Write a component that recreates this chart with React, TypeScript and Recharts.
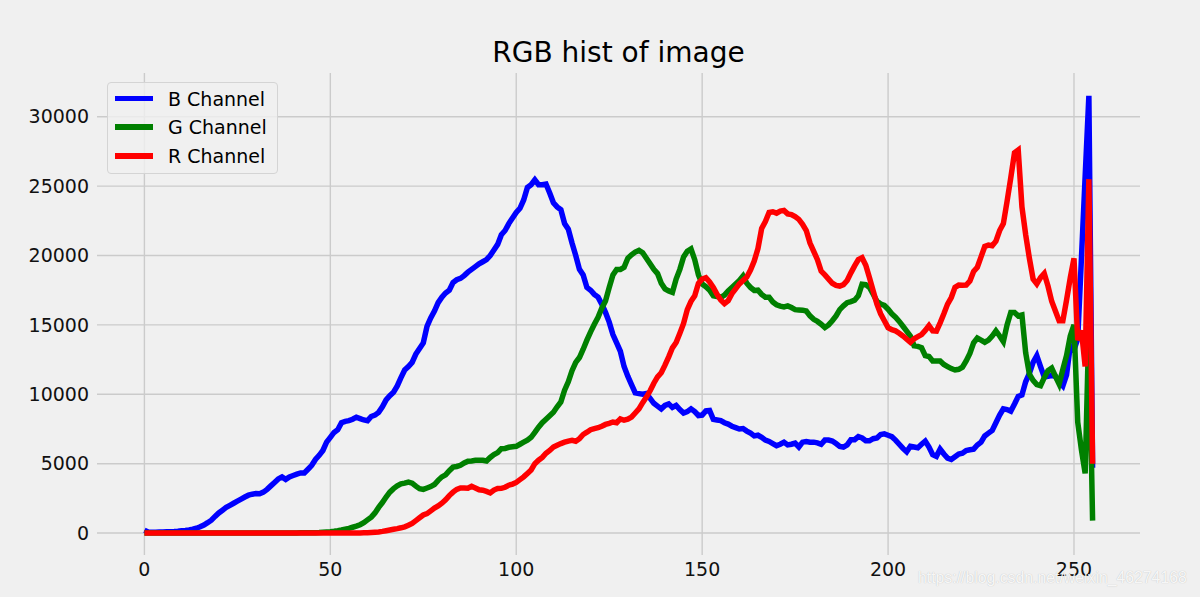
import { LineChart, Line, XAxis, YAxis, CartesianGrid, Legend } from 'recharts';

// pixel counts per intensity level
const blue = [
  200, 80, 60, 60, 70, 80, 90, 100, 110, 130, 160, 190, 230, 280, 350, 450,
  580, 750, 930, 1200, 1450, 1650, 1850, 2000, 2150, 2300, 2450, 2600, 2730, 2800, 2850, 2830,
  2950, 3150, 3400, 3650, 3900, 4050, 3870, 4050, 4150, 4250, 4330, 4330, 4600, 4880, 5300, 5600,
  5950, 6550, 6900, 7250, 7450, 7950, 8050, 8100, 8200, 8350, 8250, 8150, 8100, 8400, 8500, 8700,
  9100, 9600, 9900, 10150, 10600, 11200, 11750, 12000, 12300, 12900, 13300, 13700, 14900, 15500, 16000, 16600,
  17000, 17300, 17500, 18050, 18250, 18350, 18550, 18800, 19000, 19200, 19400, 19550, 19700, 20000, 20400, 20800,
  21500, 21800, 22300, 22700, 23100, 23400, 24000, 24900, 25100, 25450, 25100, 25100, 25150, 24500, 23800, 23500,
  23300, 22300, 21900, 20900, 20000, 19000, 18600, 17700, 17500, 17200, 17000, 16500, 15900, 15200, 14300, 13700,
  13100, 12000, 11300, 10700, 10100, 10050, 10000, 10050, 9700, 9350, 9150, 8950, 9200, 9310, 9050, 9200,
  8900, 8650, 8750, 8950, 8750, 8470, 8500, 8800, 8830, 8200, 8150, 8100, 7950, 7850, 7700, 7600,
  7500, 7530, 7350, 7200, 7000, 7050, 6900, 6700, 6600, 6450, 6300, 6400, 6550, 6350, 6400, 6480,
  6200, 6550, 6600, 6550, 6550, 6500, 6400, 6700, 6700, 6630, 6450, 6250, 6200, 6350, 6730, 6730,
  6950, 6850, 6650, 6650, 6800, 6850, 7100, 7150, 7050, 6950, 6700, 6400, 6100, 5850, 6250, 6200,
  6150, 6400, 6630, 6200, 5650, 5530, 6050, 5700, 5400, 5300, 5500, 5700, 5750, 5950, 6000, 6050,
  6350, 6550, 7000, 7200, 7400, 7950, 8500, 8950, 8900, 8780, 9300, 9850, 9950, 10900, 11500, 12300,
  12780, 12000, 11250, 11300, 11350, 11300, 10900, 10600, 11400, 13500, 13200, 14000, 19800, 25700, 31500, 4700,
];

const green = [
  0, 0, 0, 0, 0, 0, 0, 0, 0, 0, 0, 0, 0, 0, 0, 0,
  0, 0, 0, 0, 0, 0, 0, 0, 0, 0, 0, 0, 0, 0, 0, 0,
  0, 0, 0, 0, 0, 0, 0, 0, 10, 10, 20, 20, 20, 30, 30, 40,
  60, 80, 100, 130, 170, 220, 280, 340, 420, 500, 600, 750, 950, 1150, 1450, 1850,
  2200, 2600, 2950, 3200, 3400, 3550, 3600, 3680, 3600, 3380, 3200, 3150, 3250, 3350, 3500, 3800,
  4050, 4200, 4500, 4750, 4800, 4880, 5050, 5180, 5200, 5240, 5250, 5240, 5190, 5450, 5650, 5800,
  6080, 6100, 6180, 6220, 6250, 6400, 6550, 6700, 6900, 7250, 7630, 7950, 8200, 8450, 8710, 9100,
  9450, 10300, 10900, 11700, 12300, 12650, 13250, 13900, 14500, 15050, 15550, 16200, 16730, 17700, 18600, 19000,
  19000, 19150, 19800, 20050, 20250, 20370, 20200, 19800, 19400, 19000, 18700, 18000, 17600, 17450, 17350, 18300,
  19000, 19900, 20300, 20470, 19700, 18600, 17950, 17750, 17500, 17100, 17050, 16970, 17150, 17450, 17700, 17950,
  18200, 18520, 18000, 17700, 17480, 17500, 17200, 17000, 17000, 16650, 16450, 16350, 16300, 16370, 16250, 16100,
  16080, 16060, 16000, 15650, 15400, 15250, 15050, 14810, 15000, 15300, 15650, 16100, 16370, 16600, 16680, 16780,
  17100, 17930, 17900, 17700, 17210, 16700, 16500, 16400, 16130, 15800, 15550, 15250, 14900, 14550, 14200, 13500,
  13450, 13350, 12780, 12720, 12400, 12400, 12400, 12150, 12000, 11850, 11750, 11800, 11950, 12400, 12950, 13700,
  14050, 13900, 13750, 13900, 14200, 14570, 14200, 13800, 15000, 15890, 15890, 15650, 15720, 13000, 11460, 11000,
  10700, 10620, 11200, 11700, 11890, 11300, 10740, 11800, 12800, 14200, 15000, 8000, 6000, 4300, 15000, 900,
];

const red = [
  0, 0, 0, 0, 0, 0, 0, 0, 0, 0, 0, 0, 0, 0, 0, 0,
  0, 0, 0, 0, 0, 0, 0, 0, 0, 0, 0, 0, 0, 0, 0, 0,
  0, 0, 0, 0, 0, 0, 0, 0, 0, 0, 0, 0, 0, 0, 0, 0,
  0, 0, 0, 0, 0, 0, 0, 0, 0, 10, 10, 20, 20, 40, 60, 80,
  120, 170, 220, 270, 320, 380, 450, 560, 700, 900, 1100, 1300, 1400, 1600, 1800, 1950,
  2150, 2400, 2700, 2950, 3150, 3250, 3250, 3230, 3370, 3250, 3120, 3090, 3000, 2890, 3100, 3210,
  3220, 3300, 3450, 3530, 3650, 3850, 4050, 4300, 4550, 5000, 5250, 5450, 5750, 5950, 6200, 6330,
  6450, 6550, 6630, 6680, 6620, 6800, 7100, 7270, 7450, 7530, 7590, 7700, 7830, 7900, 8000, 7950,
  8230, 8130, 8200, 8350, 8650, 8950, 9400, 9800, 10250, 10800, 11250, 11550, 12100, 12700, 13350, 13730,
  14400, 15100, 16100, 16700, 17100, 18000, 18300, 18400, 18100, 17700, 17200, 16800, 16530, 16750, 17250, 17600,
  17950, 18200, 18450, 18950, 19600, 20500, 21950, 22450, 23100, 23150, 23050, 23200, 23250, 23000, 22950, 22800,
  22600, 22250, 21800, 20900, 20300, 19700, 18880, 18600, 18300, 18000, 17850, 17800, 17900, 18200, 18750, 19250,
  19700, 19840, 19300, 18400, 17440, 16500, 15800, 15300, 14800, 14650, 14570, 14400, 14200, 13980, 13750, 14000,
  14150, 14300, 14600, 14950, 14570, 14550, 15150, 15800, 16500, 16970, 17700, 17870, 17850, 17870, 18160, 18850,
  19150, 19900, 20650, 20750, 20700, 21030, 21800, 22300, 23900, 25600, 27400, 27600, 23500, 21500, 19800, 18300,
  17950, 18400, 18700, 17800, 16700, 16000, 15290, 15290, 16800, 18400, 19800, 13900, 14600, 12000, 25500, 5000,
];

const xTicks = [0, 50, 100, 150, 200, 250];
const yTicks = [0, 5000, 10000, 15000, 20000, 25000, 30000];
const xDomain = [-12.75, 267.75];
const yDomain = [-1580, 33150];

const seriesNames = ['B Channel', 'G Channel', 'R Channel'];
const seriesColors = ['#0000ff', '#008000', '#ff0000'];

const data = blue.map((b, i) => ({ x: i, b, g: green[i], r: red[i] }));

const FONT = '"DejaVu Sans", sans-serif';

// map a value through the axis scale (function in some versions, object with .map in others)
function scaled(axis: any, v: number, lo: number, len: number, dom: number[], flip: boolean) {
  const s = axis?.scale;
  if (typeof s === 'function') return s(v);
  if (s && typeof s.map === 'function') return s.map(v);
  const f = (v - dom[0]) / (dom[1] - dom[0]);
  return flip ? lo + len * (1 - f) : lo + len * f;
}

function LegendBox() {
  return (
    <div
      style={{
        position: 'relative',
        width: 171,
        height: 92,
        boxSizing: 'border-box',
        border: '1px solid #d4d4d4',
        borderRadius: 4,
        background: 'rgba(240,240,240,0.8)',
        fontFamily: FONT,
        fontSize: 19,
        color: '#000',
      }}
    >
      {seriesNames.map((name, i) => (
        <div
          key={name}
          style={{ position: 'absolute', left: 0, top: 15.5 + i * 28.7 - 12, height: 24, display: 'flex', alignItems: 'center' }}
        >
          <span style={{ display: 'inline-block', marginLeft: 7, width: 38, height: 5.5, background: seriesColors[i] }} />
          <span style={{ marginLeft: 15, lineHeight: '24px', whiteSpace: 'nowrap' }}>{name}</span>
        </div>
      ))}
    </div>
  );
}

export default function App() {
  const tick = { fontFamily: FONT, fontSize: 19, fill: '#111' };
  return (
    <div style={{ position: 'absolute', left: 0, top: 0, width: 1200, height: 597, background: '#f0f0f0', overflow: 'hidden' }}>
      <div
        style={{
          position: 'absolute',
          left: 97,
          width: 1043,
          top: 39,
          textAlign: 'center',
          fontFamily: FONT,
          fontSize: 28,
          lineHeight: 1,
          color: '#000',
        }}
      >
        RGB hist of image
      </div>
      <LineChart width={1200} height={597} data={data} margin={{ top: 73, right: 60, bottom: 12, left: 37 }}>
        <CartesianGrid
          stroke="#cbcbcb"
          strokeWidth={1.4}
          horizontalCoordinatesGenerator={({ yAxis, offset }: any) =>
            yTicks.map((t) => scaled(yAxis, t, offset?.top ?? 73, offset?.height ?? 482, yDomain, true))
          }
          verticalCoordinatesGenerator={({ xAxis, offset }: any) =>
            xTicks.map((t) => scaled(xAxis, t, offset?.left ?? 97, offset?.width ?? 1043, xDomain, false))
          }
        />
        <XAxis
          type="number"
          dataKey="x"
          domain={xDomain}
          ticks={xTicks}
          allowDataOverflow
          axisLine={false}
          tickLine={false}
          tick={tick}
          height={30}
        />
        <YAxis
          type="number"
          domain={yDomain}
          ticks={yTicks}
          allowDataOverflow
          axisLine={false}
          tickLine={false}
          tick={tick}
          width={60}
        />
        <Legend
          layout="horizontal"
          verticalAlign="middle"
          align="center"
          wrapperStyle={{ left: 107, top: 82, width: 171 }}
          content={() => <LegendBox />}
        />
        <Line dataKey="b" stroke={seriesColors[0]} strokeWidth={5.5} dot={false} type="linear" isAnimationActive={false} />
        <Line dataKey="g" stroke={seriesColors[1]} strokeWidth={5.5} dot={false} type="linear" isAnimationActive={false} />
        <Line dataKey="r" stroke={seriesColors[2]} strokeWidth={5.5} dot={false} type="linear" isAnimationActive={false} />
      </LineChart>
      <div
        style={{
          position: 'absolute',
          left: 918,
          top: 569,
          fontFamily: '"Liberation Sans", Arial, sans-serif',
          fontSize: 15.8,
          lineHeight: '18px',
          color: 'rgba(255,255,255,0.9)',
          textShadow: '0 0 1px rgba(0,0,0,0.25)',
          whiteSpace: 'nowrap',
        }}
      >
        https://blog.csdn.net/weixin_46274168
      </div>
    </div>
  );
}
